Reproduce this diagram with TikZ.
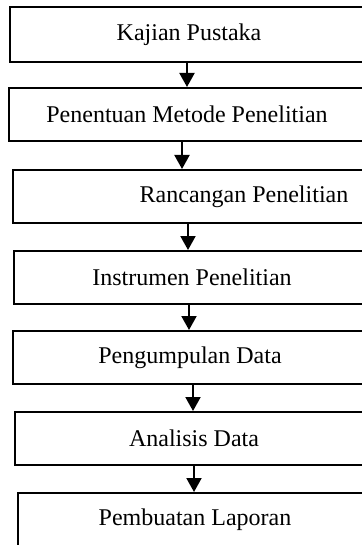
\documentclass[tikz,border=0pt]{standalone}
\usepackage{fontspec}
\setmainfont{Liberation Serif}
\usetikzlibrary{arrows.meta,positioning}

\begin{document}
\begin{tikzpicture}[x=0.5pt,y=-0.5pt,
every node/.style={draw,rectangle,anchor=west,inner sep=0pt,line width=1pt,
  minimum height=26.5pt,font=\fontsize{12}{14}\selectfont},
flow/.style={line width=1pt,-{Triangle[width=7.5pt,length=7pt]}}]
\useasboundingbox (0,0) rectangle (362,545);
\clip (0,0) rectangle (362,545);
\node[minimum width=179pt,minimum height=27.5pt] (A1) at (9,34.5) {Kajian Pustaka};
\node[minimum width=178pt] (A2) at (8,114.5) {Penentuan Metode Penelitian};
\node[minimum width=231pt] (A3) at (12,196.5) {Rancangan Penelitian};
\node[minimum width=178pt] (A4) at (13,277.5) {Instrumen Penelitian};
\node[minimum width=177pt] (A5) at (12,357.5) {Pengumpulan Data};
\node[minimum width=179pt] (A6) at (14,438.5) {Analisis Data};
\node[minimum width=177pt] (A7) at (17,519.5) {Pembuatan Laporan};
\draw[flow] (A1.south -| 187,0) -- (A2.north -| 187,0);
\draw[flow] (A2.south -| 182,0) -- (A3.north -| 182,0);
\draw[flow] (A3.south -| 188,0) -- (A4.north -| 188,0);
\draw[flow] (A4.south -| 189,0) -- (A5.north -| 189,0);
\draw[flow] (A5.south -| 193,0) -- (A6.north -| 193,0);
\draw[flow] (A6.south -| 194,0) -- (A7.north -| 194,0);
\end{tikzpicture}
\end{document}
